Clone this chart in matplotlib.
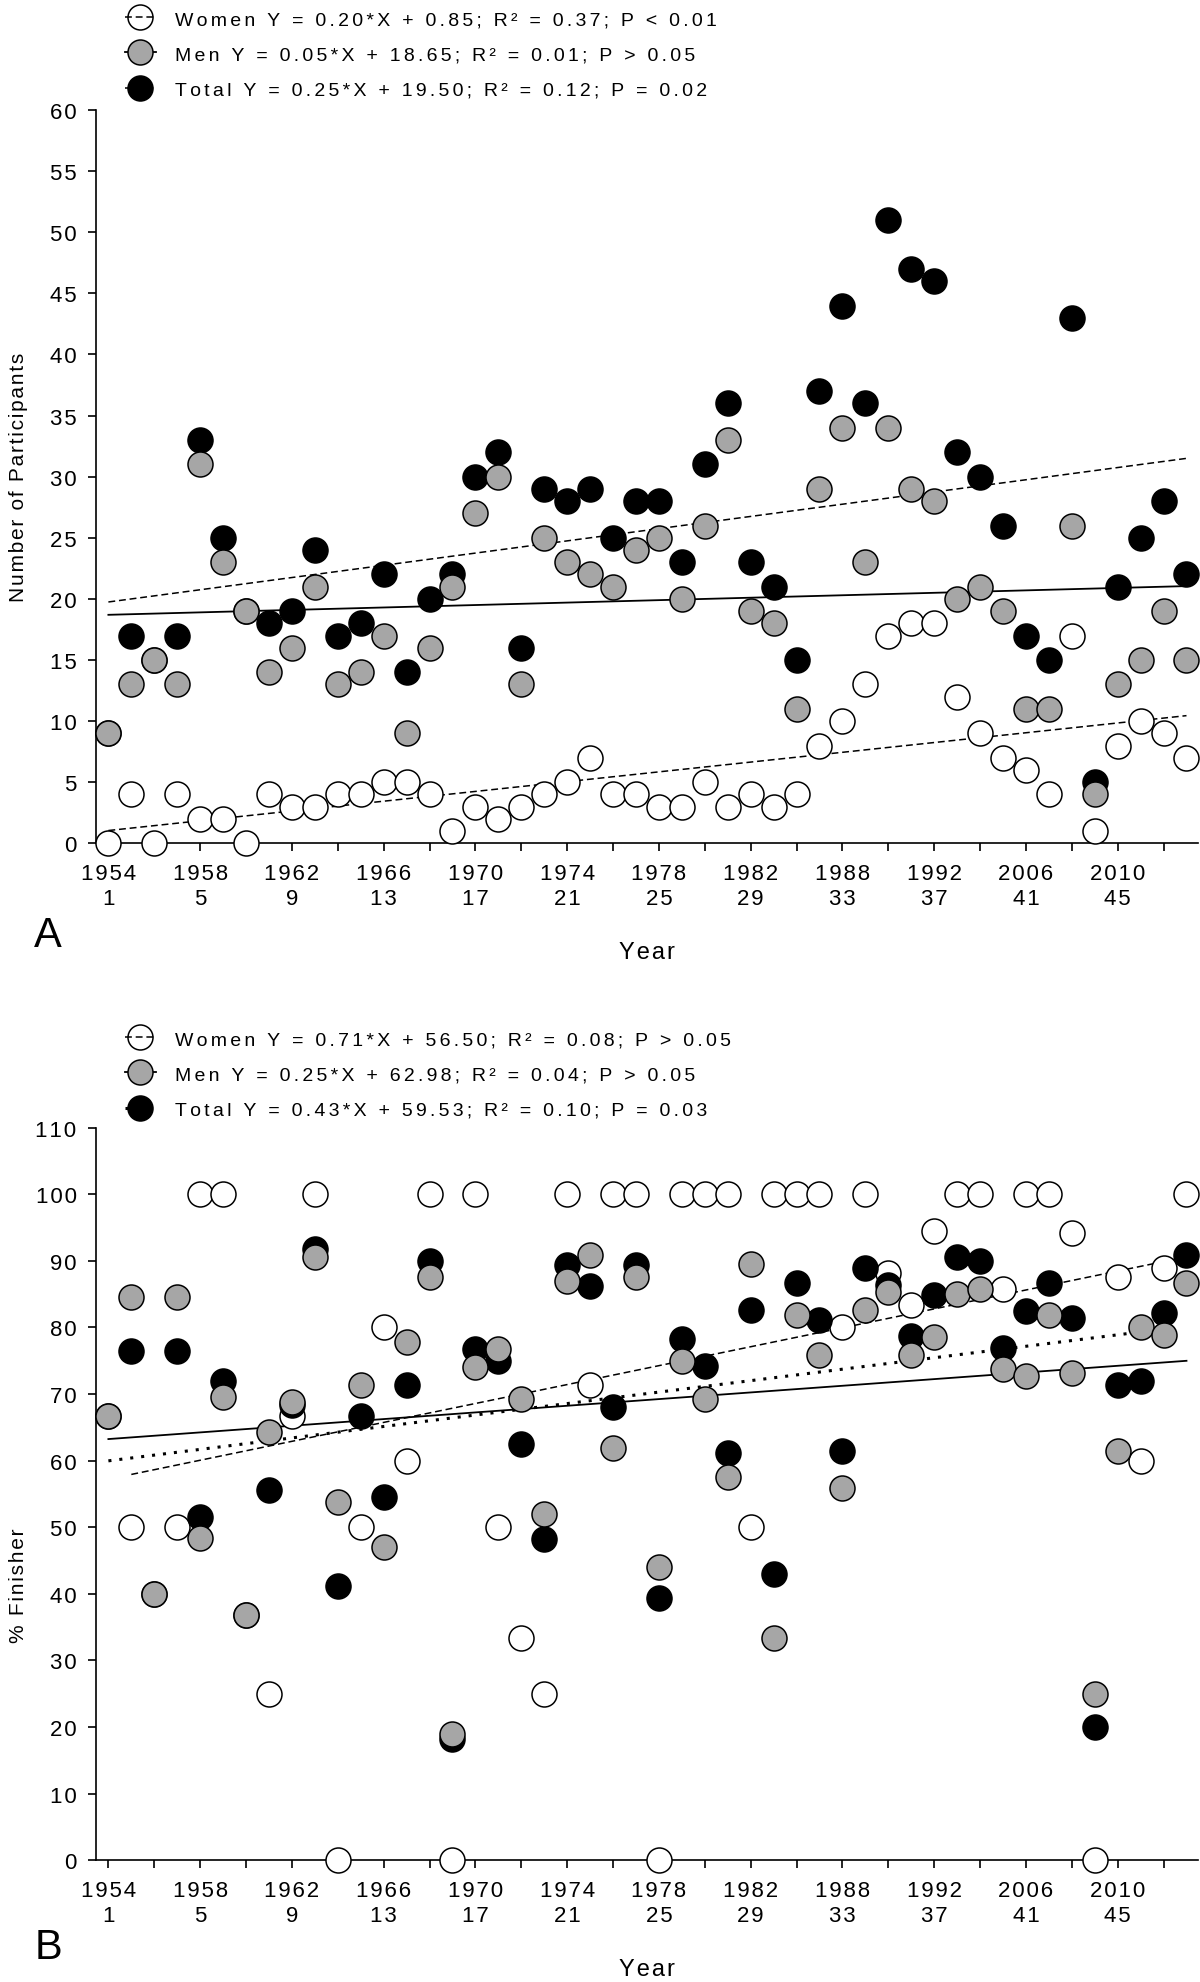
import numpy as np
import matplotlib.pyplot as plt
from matplotlib.lines import Line2D

plt.rcParams['font.family'] = ['Liberation Sans', 'DejaVu Sans']

# race number 1..48
race = np.arange(1, 49)
tick_pos = [1, 5, 9, 13, 17, 21, 25, 29, 33, 37, 41, 45]
tick_years = ['1954', '1958', '1962', '1966', '1970', '1974', '1978', '1982',
              '1988', '1992', '2006', '2010']

# panel A: number of participants
women_n = [0, 4, 0, 4, 2, 2, 0, 4, 3, 3, 4, 4, 5, 5, 4, 1,
           3, 2, 3, 4, 5, 7, 4, 4, 3, 3, 5, 3, 4, 3, 4, 8,
           10, 13, 17, 18, 18, 12, 9, 7, 6, 4, 17, 1, 8, 10, 9, 7]
men_n = [9, 13, 15, 13, 31, 23, 19, 14, 16, 21, 13, 14, 17, 9, 16, 21,
         27, 30, 13, 25, 23, 22, 21, 24, 25, 20, 26, 33, 19, 18, 11, 29,
         34, 23, 34, 29, 28, 20, 21, 19, 11, 11, 26, 4, 13, 15, 19, 15]
total_n = [9, 17, 15, 17, 33, 25, 19, 18, 19, 24, 17, 18, 22, 14, 20, 22,
           30, 32, 16, 29, 28, 29, 25, 28, 28, 23, 31, 36, 23, 21, 15, 37,
           44, 36, 51, 47, 46, 32, 30, 26, 17, 15, 43, 5, 21, 25, 28, 22]

# panel B: % finisher (nan = no women started)
nan = np.nan
women_pct = [nan, 50, nan, 50, 100, 100, nan, 25, 66.7, 100, 0, 50, 80, 60, 100, 0,
             100, 50, 33.3, 25, 100, 71.4, 100, 100, 0, 100, 100, 100, 50, 100, 100, 100,
             80, 100, 88.2, 83.3, 94.4, 100, 100, 85.7, 100, 100, 94.1, 0, 87.5, 60, 88.9, 100]
men_pct = [66.7, 84.6, 40, 84.6, 48.4, 69.6, 36.8, 64.3, 68.8, 90.5, 53.8, 71.4, 47.1, 77.8, 87.5, 19.0,
           74.1, 76.7, 69.2, 52.0, 87.0, 90.9, 61.9, 87.5, 44.0, 75.0, 69.2, 57.6, 89.5, 33.3, 81.8, 75.9,
           55.9, 82.6, 85.3, 75.9, 78.6, 85.0, 85.7, 73.7, 72.7, 81.8, 73.1, 25.0, 61.5, 80.0, 78.9, 86.7]
total_pct = [66.7, 76.5, 40, 76.5, 51.5, 72.0, 36.8, 55.6, 68.4, 91.7, 41.2, 66.7, 54.5, 71.4, 90.0, 18.2,
             76.7, 75.0, 62.5, 48.3, 89.3, 86.2, 68.0, 89.3, 39.3, 78.3, 74.2, 61.1, 82.6, 42.9, 86.7, 81.1,
             61.4, 88.9, 86.3, 78.7, 84.8, 90.6, 90.0, 76.9, 82.4, 86.7, 81.4, 20.0, 71.4, 72.0, 82.1, 90.9]

# regression lines: slope, intercept, x-range
fitA = {'Women': (0.20, 0.85, 1, 48), 'Men': (0.05, 18.65, 1, 48), 'Total': (0.25, 19.50, 1, 48)}
fitB = {'Women': (0.71, 56.50, 2, 48), 'Men': (0.25, 62.98, 1, 48), 'Total': (0.43, 59.53, 1, 46)}
labelsA = ['Women Y = 0.20*X + 0.85; R\u00b2 = 0.37; P < 0.01',
           'Men Y = 0.05*X + 18.65; R\u00b2 = 0.01; P > 0.05',
           'Total Y = 0.25*X + 19.50; R\u00b2 = 0.12; P = 0.02']
labelsB = ['Women Y = 0.71*X + 56.50; R\u00b2 = 0.08; P > 0.05',
           'Men Y = 0.25*X + 62.98; R\u00b2 = 0.04; P > 0.05',
           'Total Y = 0.43*X + 59.53; R\u00b2 = 0.10; P = 0.03']

face = {'Women': 'white', 'Men': '#a6a6a6', 'Total': 'black'}
zord = {'Women': 4, 'Total': 5, 'Men': 6}
dashed = (0, (4.5, 2.5))
dotted = (0, (1, 2.6))
stylesA = {'Women': dashed, 'Men': '-', 'Total': dashed}
stylesB = {'Women': dashed, 'Men': '-', 'Total': dotted}
lwA = {'Women': 1.1, 'Men': 1.3, 'Total': 1.1}
lwB = {'Women': 1.1, 'Men': 1.3, 'Total': 2.2}

MS = 18
fig = plt.figure(figsize=(12, 19.83), dpi=100)
axA = fig.add_axes([0.08, 0.5742, 0.9183, 0.3698])
axB = fig.add_axes([0.08, 0.0614, 0.9183, 0.3695])


def spaced(s, n=1):
    # the original text is set with wide letter spacing
    return ('\u200a' * n).join(s)


def draw(ax, series, fits, styles, lws, labels, ymax, ystep, ylabel, ylab_y, leg_top):
    for name in ['Women', 'Total', 'Men']:
        ax.plot(race, series[name], 'o', ms=MS, mfc=face[name], mec='black',
                mew=1.1, clip_on=False, zorder=zord[name])
    for name in ['Women', 'Men', 'Total']:
        m, b, x0, x1 = fits[name]
        xs = np.array([x0, x1])
        ax.plot(xs, m * xs + b, color='black', ls=styles[name], lw=lws[name], zorder=3)
    ax.set_xlim(0.46, 48.5)
    ax.set_ylim(0, ymax)
    yt = np.arange(0, ymax + 1, ystep)
    ax.set_yticks(yt)
    ax.set_yticklabels([spaced(str(v)) for v in yt])
    ax.set_xticks(np.arange(1, 48, 2))
    lab = []
    for p in range(1, 48, 2):
        if p in tick_pos:
            lab.append(spaced(tick_years[tick_pos.index(p)]) + '\n' + spaced(str(p)))
        else:
            lab.append('')
    ax.set_xticklabels(lab, linespacing=1.25)
    for s in ['top', 'right']:
        ax.spines[s].set_visible(False)
    for s in ['left', 'bottom']:
        ax.spines[s].set_linewidth(1.2)
    ax.tick_params(direction='out', length=6, width=1.2, labelsize=16, pad=8)
    ax.set_ylabel(spaced(ylabel), fontsize=15)
    ax.yaxis.set_label_coords(-0.062, ylab_y)
    ax.set_xlabel(spaced('Year'), fontsize=17)
    ax.xaxis.set_label_coords(0.5, -0.133)

    handles = []
    for name in ['Women', 'Men', 'Total']:
        handles.append(Line2D([], [], marker='o', ms=MS,
                              mfc='none' if name == 'Women' else face[name],
                              mec='black', mew=1.1, color='black',
                              ls=styles[name], lw=lws[name]))
    ax.legend(handles, [spaced(t, 2) for t in labels], loc='upper left',
              bbox_to_anchor=(0.104, leg_top),
              bbox_transform=fig.transFigure, frameon=False, fontsize=14,
              borderpad=0, borderaxespad=0, handlelength=1.6, handletextpad=0.98,
              labelspacing=0.9)


draw(axA, {'Women': women_n, 'Men': men_n, 'Total': total_n}, fitA, stylesA, lwA,
     labelsA, 60, 5, 'Number of Participants', 0.5, 0.9942)
draw(axB, {'Women': women_pct, 'Men': men_pct, 'Total': total_pct}, fitB, stylesB, lwB,
     labelsB, 110, 10, '% Finisher', 0.376, 0.4798)

fig.text(0.04, 1 - 936 / 1983, 'A', fontsize=30, ha='center', va='center')
fig.text(0.04, 1 - 1948 / 1983, 'B', fontsize=30, ha='center', va='center')

fig.savefig('out.png', dpi=100)
